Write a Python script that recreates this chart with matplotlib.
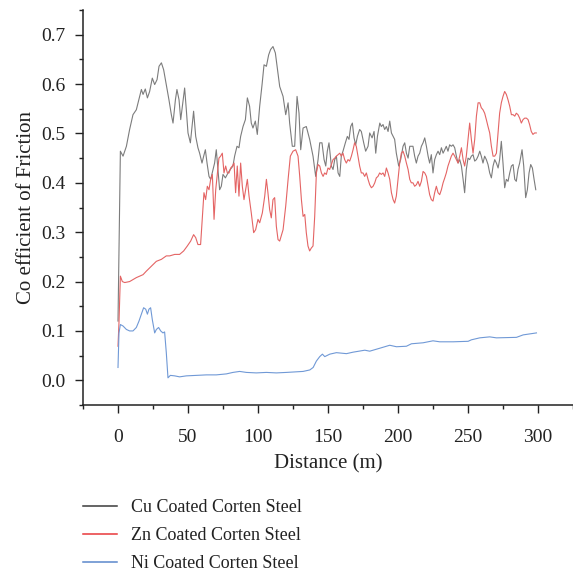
import matplotlib
matplotlib.use("agg")
import matplotlib.pyplot as plt
from matplotlib.ticker import MultipleLocator

plt.rcParams["font.family"] = ["Liberation Serif", "DejaVu Serif"]

# values
cu_x = [0, 1.7, 3.6, 6, 8.3, 10.7, 13.1, 15.5, 16.7, 17.9, 19.5, 21, 22.6, 24.5, 26.2, 27.9,
        29.3, 31, 32.6, 34.5, 36.4, 38.1, 39.3, 41, 42.1, 43.6, 44.8, 46, 47.6, 48.8, 50,
        51.7, 52.9, 54, 55.5, 57.1, 58.3, 60, 61.2, 62.4, 63.6, 65, 66.2, 67.9, 69, 70.2,
        71.4, 72.6, 73.8, 75, 76.7, 78.6, 80.2, 82.1, 83.3, 85, 86.4, 87.6, 89.3, 91, 92.4,
        94, 95.2, 96.4, 98.1, 99.5, 101.2, 102.9, 104.3, 106, 107.6, 109, 110.7, 112.4,
        113.8, 115.5, 117.9, 119.8, 121.5, 122.6, 124.5, 126.2, 127.9, 129.3, 130.5, 132.2,
        134.5, 136.9, 139.3, 141.2, 142.9, 144.1, 145.7, 147.2, 148.4, 149.5, 150.7, 152.4,
        153.6, 154.8, 156, 157.2, 158.4, 159.5, 160.7, 162.4, 163.8, 165, 166.2, 167.4,
        168.6, 169.8, 171, 172.6, 173.8, 175.5, 176.9, 178.6, 179.8, 181.5, 182.9, 184.1,
        185.3, 187, 188.1, 189.3, 190.5, 191.7, 192.9, 194.1, 195.3, 196.5, 197.6, 198.8,
        200.5, 201.9, 203.6, 204.8, 206, 207.2, 208.4, 209.5, 210.7, 211.9, 213.1, 214.3,
        215.5, 216.7, 217.9, 219.1, 220.3, 221.5, 222.6, 223.8, 225, 226.2, 227.4, 228.6,
        229.8, 231, 232.2, 233.4, 234.5, 235.7, 236.9, 238.1, 239.3, 240.5, 241.7, 242.9,
        244.1, 245.3, 246.5, 247.6, 248.8, 250, 251.2, 252.4, 253.6, 254.8, 256, 257.2,
        258.4, 259.5, 260.7, 261.9, 263.1, 264.3, 265.5, 266.7, 267.9, 269.1, 270.3, 271.5,
        272.6, 273.8, 275, 276.2, 277.4, 278.6, 279.8, 281, 282.2, 283.4, 284.5, 285.7,
        286.9, 288.6, 289.8, 291.2, 292.4, 293.6, 294.8, 296, 297.2, 298.4]
cu_y = [0.12, 0.464, 0.454, 0.474, 0.508, 0.538, 0.548, 0.575, 0.589, 0.579, 0.59, 0.572,
        0.585, 0.612, 0.599, 0.609, 0.636, 0.643, 0.629, 0.599, 0.568, 0.538, 0.521, 0.568,
        0.589, 0.568, 0.528, 0.555, 0.592, 0.548, 0.501, 0.481, 0.514, 0.545, 0.494, 0.471,
        0.46, 0.44, 0.454, 0.467, 0.44, 0.413, 0.407, 0.427, 0.44, 0.467, 0.427, 0.386,
        0.393, 0.417, 0.41, 0.42, 0.427, 0.434, 0.454, 0.474, 0.471, 0.494, 0.514, 0.528,
        0.572, 0.555, 0.521, 0.511, 0.525, 0.498, 0.555, 0.599, 0.639, 0.636, 0.659, 0.67,
        0.676, 0.663, 0.632, 0.595, 0.575, 0.538, 0.562, 0.521, 0.474, 0.474, 0.575, 0.541,
        0.467, 0.511, 0.514, 0.488, 0.454, 0.413, 0.447, 0.481, 0.481, 0.447, 0.434, 0.464,
        0.481, 0.434, 0.427, 0.447, 0.454, 0.42, 0.413, 0.454, 0.464, 0.481, 0.494, 0.488,
        0.514, 0.521, 0.491, 0.477, 0.494, 0.508, 0.504, 0.481, 0.464, 0.474, 0.501, 0.491,
        0.504, 0.46, 0.494, 0.521, 0.514, 0.518, 0.508, 0.514, 0.504, 0.525, 0.501, 0.494,
        0.488, 0.46, 0.434, 0.447, 0.474, 0.481, 0.46, 0.45, 0.474, 0.474, 0.474, 0.454,
        0.44, 0.454, 0.46, 0.474, 0.481, 0.491, 0.474, 0.454, 0.44, 0.457, 0.42, 0.447,
        0.457, 0.464, 0.457, 0.471, 0.46, 0.467, 0.474, 0.464, 0.477, 0.474, 0.477, 0.471,
        0.454, 0.44, 0.447, 0.434, 0.407, 0.38, 0.427, 0.45, 0.447, 0.454, 0.457, 0.444,
        0.447, 0.454, 0.464, 0.454, 0.44, 0.454, 0.447, 0.437, 0.42, 0.41, 0.434, 0.447,
        0.44, 0.43, 0.447, 0.484, 0.44, 0.39, 0.407, 0.403, 0.42, 0.434, 0.437, 0.407,
        0.403, 0.427, 0.44, 0.467, 0.434, 0.37, 0.386, 0.42, 0.437, 0.43, 0.407, 0.386]

zn_x = [0, 0.7, 1.7, 3.1, 4.8, 8.3, 13.1, 17.9, 20.2, 23.8, 27.4, 31, 34.5, 36.9, 40.5, 44,
        46.9, 49.5, 51.9, 54, 55.5, 57.1, 59, 60.2, 61.4, 62.6, 63.8, 65, 66.2, 67.4, 68.6,
        69.8, 71, 72.1, 73.3, 74.5, 75.7, 76.9, 78.1, 79.3, 80.5, 81.7, 82.9, 84, 85.2,
        86.4, 87.6, 88.8, 90, 91.2, 92.4, 93.6, 95.2, 96.9, 98.3, 100, 101.2, 103.1, 104.8,
        106, 107.1, 108.3, 109.5, 110.7, 111.9, 113.1, 114.3, 115.5, 117.9, 119.8, 121.5,
        123.1, 125, 126.9, 128.6, 129.8, 131, 132.2, 133.4, 134.5, 135.7, 136.9, 138.1,
        139.3, 140.5, 141.7, 142.9, 144.1, 145.3, 146.5, 147.6, 148.8, 150, 151.2, 152.4,
        153.6, 154.8, 156, 157.2, 158.4, 159.5, 160.7, 161.9, 163.1, 164.3, 165.5, 166.7,
        167.9, 169, 170.2, 171.4, 172.6, 173.8, 175, 176.2, 177.4, 178.6, 179.8, 181, 182.2,
        183.4, 184.5, 185.7, 186.9, 188.1, 189.3, 190.5, 191.7, 192.9, 194.1, 195.3, 196.5,
        197.6, 198.8, 200, 201.2, 202.4, 203.6, 204.8, 206, 207.2, 208.4, 209.5, 210.7,
        211.9, 213.1, 214.3, 215.5, 216.7, 217.9, 219.1, 220.3, 221.5, 222.6, 223.8, 225,
        226.2, 227.4, 228.6, 229.8, 231, 232.2, 233.4, 234.5, 235.7, 236.9, 238.1, 239.3,
        240.5, 241.7, 242.9, 244.1, 245.3, 246.5, 247.6, 248.8, 250, 251.2, 252.4, 253.6,
        254.8, 256, 257.2, 258.4, 259.5, 260.7, 261.9, 263.1, 264.3, 265.5, 266.7, 267.9,
        269.1, 270.3, 271.5, 272.6, 273.8, 275, 276.2, 277.4, 278.6, 279.8, 281, 282.2,
        283.4, 284.5, 285.7, 286.9, 288.1, 289.3, 290.5, 291.7, 292.9, 294, 295.2, 296.4,
        297.6, 298.8]
zn_y = [0.069, 0.117, 0.211, 0.2, 0.198, 0.2, 0.208, 0.214, 0.221, 0.231, 0.241, 0.245,
        0.252, 0.252, 0.255, 0.255, 0.262, 0.272, 0.282, 0.295, 0.289, 0.275, 0.275, 0.326,
        0.38, 0.366, 0.393, 0.386, 0.407, 0.417, 0.326, 0.386, 0.42, 0.45, 0.454, 0.46,
        0.42, 0.434, 0.42, 0.42, 0.43, 0.434, 0.44, 0.38, 0.434, 0.373, 0.44, 0.393, 0.366,
        0.386, 0.407, 0.373, 0.339, 0.299, 0.305, 0.326, 0.319, 0.339, 0.373, 0.407, 0.38,
        0.346, 0.329, 0.366, 0.37, 0.312, 0.285, 0.282, 0.305, 0.353, 0.407, 0.454, 0.464,
        0.467, 0.454, 0.413, 0.366, 0.332, 0.336, 0.299, 0.272, 0.262, 0.268, 0.272, 0.332,
        0.42, 0.437, 0.434, 0.42, 0.413, 0.42, 0.417, 0.43, 0.427, 0.437, 0.447, 0.45,
        0.454, 0.457, 0.46, 0.454, 0.46, 0.447, 0.44, 0.447, 0.444, 0.454, 0.467, 0.481,
        0.474, 0.454, 0.434, 0.42, 0.42, 0.413, 0.42, 0.407, 0.396, 0.39, 0.393, 0.4, 0.41,
        0.413, 0.42, 0.417, 0.42, 0.413, 0.43, 0.42, 0.407, 0.38, 0.366, 0.359, 0.373,
        0.407, 0.44, 0.46, 0.464, 0.454, 0.44, 0.427, 0.407, 0.4, 0.4, 0.393, 0.396, 0.403,
        0.393, 0.403, 0.423, 0.42, 0.413, 0.393, 0.376, 0.366, 0.363, 0.38, 0.393, 0.38,
        0.376, 0.386, 0.4, 0.41, 0.42, 0.434, 0.444, 0.454, 0.46, 0.454, 0.447, 0.44, 0.454,
        0.471, 0.447, 0.434, 0.454, 0.488, 0.521, 0.488, 0.46, 0.488, 0.535, 0.562, 0.562,
        0.552, 0.548, 0.541, 0.528, 0.514, 0.501, 0.474, 0.454, 0.454, 0.46, 0.501, 0.541,
        0.562, 0.575, 0.585, 0.579, 0.568, 0.555, 0.538, 0.538, 0.535, 0.541, 0.538, 0.531,
        0.521, 0.528, 0.531, 0.531, 0.528, 0.518, 0.504, 0.498, 0.501, 0.501]

ni_x = [0, 0.7, 1.7, 3.6, 6, 8.3, 10.7, 13.1, 15, 16.7, 18.3, 19.8, 21, 22.1, 23.3, 24.5,
        26.2, 27.4, 29, 30.5, 32.1, 33.3, 34.5, 35.7, 37.4, 40.5, 44, 48.8, 56, 63.1, 70.2,
        77.4, 82.1, 86.9, 91.7, 98.8, 106, 113.1, 120.3, 132.2, 137, 139.4, 141.7, 144.1,
        146, 147.7, 151.3, 156, 163.2, 167.9, 176.3, 179.8, 187, 194.1, 198.9, 206, 209.6,
        217.9, 225, 229.8, 239.4, 250.1, 252.4, 258.4, 265.5, 270.3, 284.6, 289.4, 298.9]
ni_y = [0.026, 0.096, 0.113, 0.11, 0.103, 0.1, 0.1, 0.107, 0.12, 0.134, 0.147, 0.144,
        0.134, 0.144, 0.147, 0.123, 0.096, 0.103, 0.107, 0.1, 0.096, 0.098, 0.056, 0.005,
        0.01, 0.009, 0.007, 0.009, 0.01, 0.011, 0.011, 0.013, 0.016, 0.018, 0.016, 0.015,
        0.016, 0.015, 0.016, 0.018, 0.021, 0.026, 0.039, 0.048, 0.053, 0.048, 0.053, 0.056,
        0.054, 0.057, 0.061, 0.059, 0.065, 0.071, 0.068, 0.069, 0.074, 0.076, 0.08, 0.078,
        0.078, 0.079, 0.082, 0.086, 0.088, 0.086, 0.087, 0.092, 0.096]

labels = ["Cu Coated Corten Steel", "Zn Coated Corten Steel", "Ni Coated Corten Steel"]
colors = ["#7c7c7c", "#e46464", "#7099d6"]
legend_colors = ["#3a3a3a", "#e8383a", "#5b88cc"]

fig = plt.figure(figsize=(5.73, 5.71), dpi=100)
ax = fig.add_axes([83 / 573, 1 - 405 / 571, 490 / 573, 395 / 571])

ax.plot(cu_x, cu_y, color=colors[0], lw=0.8, label=labels[0])
ax.plot(zn_x, zn_y, color=colors[1], lw=0.8, label=labels[1])
ax.plot(ni_x, ni_y, color=colors[2], lw=0.8, label=labels[2])

ax.set_xlim(-25, 325)
ax.set_ylim(-0.05, 0.75)
ax.xaxis.set_major_locator(MultipleLocator(50))
ax.xaxis.set_minor_locator(MultipleLocator(25))
ax.yaxis.set_minor_locator(MultipleLocator(0.05))
ax.set_yticks([0, 0.1, 0.2, 0.3, 0.4, 0.5, 0.6, 0.7])
ax.set_yticklabels(["0.0", "0.1", "0.2", "0.3", "0.4", "0.5", "0.6", "0.7"])

for s in ["top", "right"]:
    ax.spines[s].set_visible(False)
for s in ["left", "bottom"]:
    ax.spines[s].set_linewidth(1.1)
    ax.spines[s].set_color("#222222")

ax.tick_params(which="major", direction="out", length=5.5, width=1, color="#222222",
               labelsize=14, labelcolor="#222222", pad=7)
ax.tick_params(axis="x", which="major", pad=12)
ax.tick_params(which="minor", direction="out", length=2.8, width=1, color="#222222")
ax.set_xlabel("Distance (m)", fontsize=15, color="#222222", labelpad=6)
ax.set_ylabel("Co efficient of Friction", fontsize=15, color="#222222", labelpad=4)

leg = fig.legend(loc="upper left", bbox_to_anchor=(83 / 573, 1 - 499 / 571), frameon=False,
                 fontsize=13, handlelength=1.9, handletextpad=0.75, labelspacing=0.62,
                 borderpad=0, borderaxespad=0, labelcolor="#222222")
for h, c in zip(leg.legend_handles, legend_colors):
    h.set_color(c)
    h.set_linewidth(1.1)

plt.savefig("out.png", dpi=100)
plt.close()
